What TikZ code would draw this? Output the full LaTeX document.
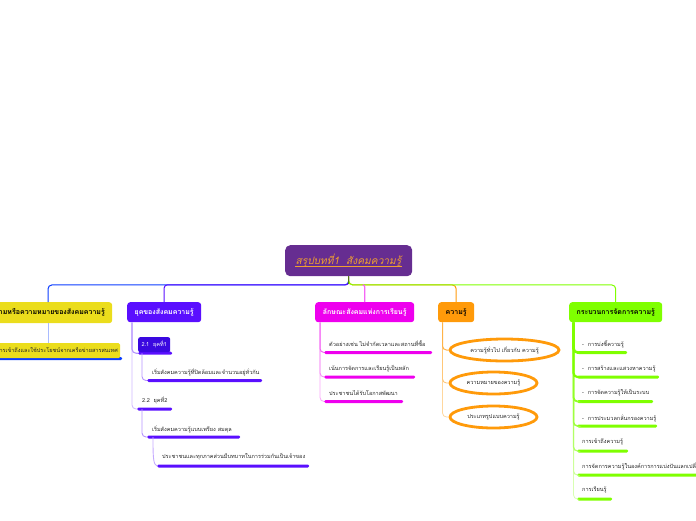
\documentclass[tikz,border=0pt]{standalone}
\usepackage{fontspec}
\setmainfont[Script=Thai]{Loma}
\usetikzlibrary{shapes.geometric}
\definecolor{cTitle}{HTML}{662D91}
\definecolor{cTitleT}{HTML}{F0A030}
\definecolor{cBlue}{HTML}{0A3CFF}
\definecolor{cYellow}{HTML}{EBDD1C}
\definecolor{cPurple}{HTML}{5A0FFF}
\definecolor{cDeep}{HTML}{3A08E0}
\definecolor{cMag}{HTML}{EE00EE}
\definecolor{cOrange}{HTML}{FF9A0A}
\definecolor{cGreen}{HTML}{7FFF00}
\tikzset{
  topic/.style={rounded corners=3pt,inner sep=0pt,anchor=north west,font=\fontsize{7}{8}\selectfont\bfseries,align=center},
  leaf/.style={inner sep=0pt,anchor=west,text=black!85,font=\fontsize{5.55}{6.5}\selectfont},
  bar/.style={fill=#1,rounded corners=1.4pt,inner sep=0pt,minimum height=3pt,anchor=west},
  oval/.style={ellipse,draw=cOrange,line width=2.8pt,fill=white,inner sep=0pt,font=\fontsize{5.55}{6.5}\selectfont,text=black!85},
  trunk/.style={rounded corners=4pt}
}
\begin{document}
\begin{tikzpicture}[x=1pt,y=-1pt]
\useasboundingbox (0,0) rectangle (696,520);
\begin{scope}
\clip (0,0) rectangle (696,520);
% topics
\node[topic,fill=cTitle,minimum width=127pt,minimum height=31pt,rounded corners=5pt] (root) at (285,245) {};
\node[inner sep=0pt,text=cTitleT,font=\fontsize{10.2}{12}\selectfont\itshape] (rootT) at (348.5,261) {สรุปบทที่1\ \ สังคมความรู้};
\draw[cTitleT,line width=.6pt] ([yshift=-1.6pt]rootT.base west) -- ([yshift=-1.6pt]rootT.base east);
\node[topic,fill=cYellow,minimum width=123pt,minimum height=21pt] (def) at (-11,302) {};
\node[inner sep=0pt,anchor=east,font=\fontsize{7}{8}\selectfont\bfseries] (defT) at (105,312) {นิยามหรือความหมายของสังคมความรู้};
\node[topic,fill=cPurple,text=white,minimum width=74pt,minimum height=20pt] (era) at (127,302) {ยุคของสังคมความรู้};
\node[topic,fill=cMag,text=white,minimum width=99pt,minimum height=20pt] (soc) at (315,302) {ลักษณะสังคมแห่งการเรียนรู้};
\node[topic,fill=cOrange,minimum width=36pt,minimum height=20pt] (know) at (438,302) {ความรู้};
\node[topic,fill=cGreen,minimum width=93pt,minimum height=20pt] (proc) at (569,302) {กระบวนการจัดการความรู้};
% bars
\node[bar=cBlue,minimum width=124pt] (b0) at (-2,358.5) {};
\node[bar=cPurple,minimum width=34pt] (b21) at (138,353.2) {};
\node[bar=cPurple,minimum width=115pt] (b211) at (147,380.5) {};
\node[bar=cPurple,minimum width=35pt] (b22) at (137,409) {};
\node[bar=cPurple,minimum width=93pt] (b221) at (147,437) {};
\node[bar=cPurple,minimum width=152pt] (b222) at (157,466) {};
\node[bar=cMag,minimum width=108pt] (m1) at (324,352.5) {};
\node[bar=cMag,minimum width=91pt] (m2) at (324,377) {};
\node[bar=cMag,minimum width=79pt] (m3) at (324,401.5) {};
\node[bar=cGreen,minimum width=50pt] (g1) at (577,352.5) {};
\node[bar=cGreen,minimum width=82pt] (g2) at (577,377) {};
\node[bar=cGreen,minimum width=76pt] (g3) at (577,401.5) {};
\node[bar=cGreen,minimum width=80pt] (g4) at (577,426) {};
\node[bar=cGreen,minimum width=51pt] (g5) at (577,451) {};
\node[bar=cGreen,minimum width=125pt] (g6) at (577,475) {};
\node[bar=cGreen,minimum width=35pt] (g7) at (577,499) {};
% yellow child and small boxes
\node[topic,fill=cYellow,rounded corners=1.5pt,minimum width=122pt,minimum height=15pt] (defC) at (-2,343) {};
\node[inner sep=0pt,anchor=east,font=\fontsize{5.55}{6.5}\selectfont,text=black!85] (defCT) at (118,350.5) {การเข้าถึงและใช้ประโยชน์จากเครือข่ายสารสนเทศ};
\node[topic,fill=cDeep,text=white,font=\fontsize{5.55}{6.5}\selectfont,minimum width=32pt,minimum height=15pt,rounded corners=2pt] (e21) at (138,337) {2.1\ \ ยุคที่1};
% ellipses
\node[oval,minimum width=109pt,minimum height=22pt] (k1) at (504.5,350) {ความรู้ทั่วไป เกี่ยวกับ ความรู้};
\node[oval,minimum width=87pt,minimum height=22pt] (k2) at (493.5,383) {ความหมายของความรู้};
\node[oval,minimum width=87pt,minimum height=22pt] (k3) at (493.5,417) {ประเภทรูปแบบความรู้};
% leaf text
\node[leaf] (t211) at (152,372) {เริ่มสังคมความรู้ที่ปิดล้อมและจำนวนอยู่ทั่วกัน};
\node[leaf] (t22) at (142,400) {2.2\ \ ยุคที่2};
\node[leaf] (t221) at (152,429) {เริ่มสังคมความรู้แบบเพรียง สมดุล};
\node[leaf] (t222) at (162,457) {ประชาชนและทุกภาคส่วนมีบทบาทในการร่วมกันเป็นเจ้าของ};
\node[leaf] (tm1) at (329,344) {ตัวอย่างเช่น ไม่จำกัดเวลาและสถานที่ซื้อ};
\node[leaf] (tm2) at (329,369) {เน้นการจัดการและเรียนรู้เป็นหลัก};
\node[leaf] (tm3) at (329,393) {ประชาชนได้รับโอกาสพัฒนา};
\node[leaf] (tg1) at (582,344) {-\ \ การบ่งชี้ความรู้};
\node[leaf] (tg2) at (582,369) {-\ \ การสร้างและแสวงหาความรู้};
\node[leaf] (tg3) at (582,393) {-\ \ การจัดความรู้ให้เป็นระบบ};
\node[leaf] (tg4) at (582,418) {-\ \ การประมวลกลั่นกรองความรู้};
\node[leaf] (tg5) at (582,442) {การเข้าถึงความรู้};
\node[leaf] (tg6) at (582,466) {การจัดการความรู้ในองค์การการแบ่งปันแลกเปลี่ยน};
\node[leaf] (tg7) at (582,490) {การเรียนรู้};
\end{scope}
% connectors from the root
\draw[cBlue,line width=1pt,rounded corners=4pt] (root.south) |- ++(-100,8.5) -| (def.north -| 48,302);
\draw[cPurple,line width=1pt,rounded corners=3pt] (root.south) |- ++(-60,8.5) -| (era.north);
\draw[cOrange,line width=1pt,rounded corners=4pt] (root.south) |- ++(50,8.5) -| (know.north);
\draw[cGreen,line width=1pt,rounded corners=4pt] (root.south) |- ++(100,8.5) -| (proc.north);
\draw[cMag!60!white,line width=1.2pt,rounded corners=2pt] (root.south) ++(14,8.5) -| (soc.north);
\draw[cTitleT!60!green!60!black,line width=1.5pt] (root.south) -- ++(0,8);
% children
\draw[cBlue!35!white,line width=1pt] (def.south -| 48,323) -- (defC.north -| 48,343);
\draw[cPurple!30!white,line width=.8pt,trunk] ([xshift=5pt]era.south west) |- (b22.west);
\draw[cPurple!45!white,line width=1.1pt,trunk] ([xshift=5pt]era.south west) |- (b21.west);
\draw[cPurple!45!white,line width=.9pt,trunk] ([xshift=4pt]b21.west) |- (b211.west);
\draw[cPurple!45!white,line width=.9pt,trunk] ([xshift=5pt]b22.west) |- (b221.west);
\draw[cPurple!35!white,line width=.9pt] ([xshift=6pt]b221.west) .. controls +(0,18) and +(-4,-1) .. (b222.west);
\draw[cMag!35!white,line width=.8pt,trunk] ([xshift=5pt]soc.south west) |- (m3.west);
\draw[cMag!45!white,line width=.9pt,trunk] ([xshift=5pt]soc.south west) |- (m2.west);
\draw[cMag!60!white,line width=1pt,trunk] ([xshift=5pt]soc.south west) |- (m1.west);
\draw[cOrange!40!white,line width=.8pt,trunk] ([xshift=4.5pt]know.south west) |- (k3.west);
\draw[cOrange!55!white,line width=.9pt,trunk] ([xshift=4.5pt]know.south west) |- (k2.west);
\draw[cOrange!75!white,line width=1pt,trunk] ([xshift=4.5pt]know.south west) |- (k1.west);
\draw[cGreen!30!white,line width=.8pt,trunk] ([xshift=4.5pt]proc.south west) |- (g7.west);
\draw[cGreen!40!white,line width=1pt,trunk] ([xshift=4.5pt]proc.south west) |- (g6.west);
\draw[cGreen!60!white,line width=1.2pt,trunk] ([xshift=4.5pt]proc.south west) |- (g5.west);
\draw[cGreen!75!white,line width=1.5pt,trunk] ([xshift=4.5pt]proc.south west) |- (g4.west);
\draw[cGreen!85!white,line width=1.8pt,trunk] ([xshift=4.5pt]proc.south west) |- (g3.west);
\draw[cGreen,line width=2.2pt,trunk] ([xshift=4.5pt]proc.south west) |- (g2.west);
\draw[cGreen,line width=2.6pt,trunk] ([xshift=4.5pt]proc.south west) |- (g1.west);
\end{tikzpicture}
\end{document}
